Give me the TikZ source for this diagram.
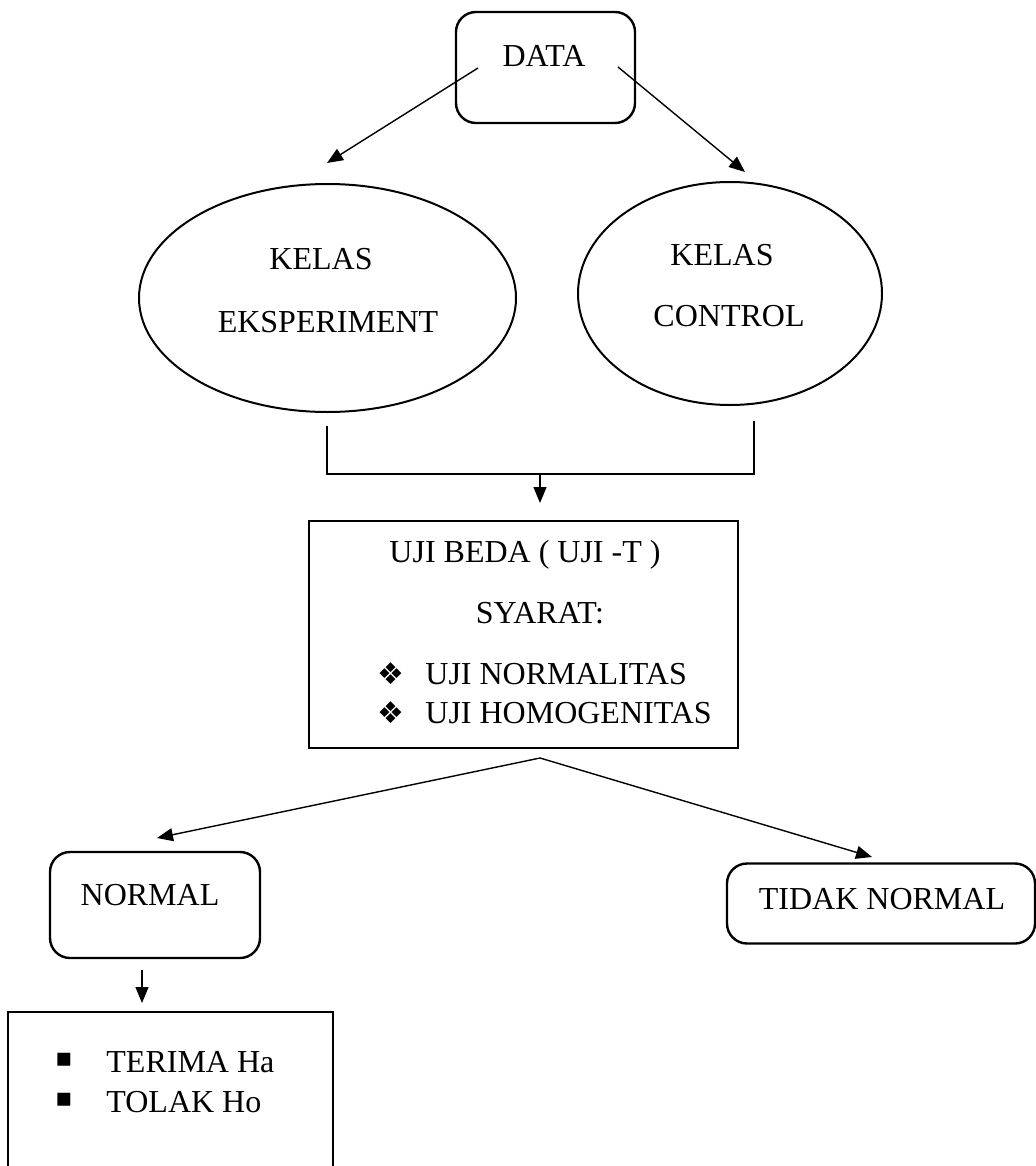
\documentclass[tikz,border=0pt]{standalone}
\usepackage{fontspec}
\setmainfont{Liberation Serif}
\newfontfamily\symfont{DejaVu Sans}
\usetikzlibrary{shapes.geometric,arrows.meta}
\begin{document}
\begin{tikzpicture}[x=0.5pt,y=-0.5pt,
  box/.style={draw,line width=1.2pt,inner sep=0pt},
  rbox/.style={box,rounded corners=10pt},
  oval/.style={draw,ellipse,line width=1pt,inner sep=0pt},
  lbl/.style={anchor=base,inner sep=0pt,font=\fontsize{16}{19}\selectfont},
  lblw/.style={lbl,anchor=base west},
  dia/.style={inner sep=0pt,font=\symfont\fontsize{15}{15}\selectfont},
  sq/.style={inner sep=0pt,font=\symfont\fontsize{13}{13}\selectfont},
  conn/.style={line width=0.7pt,-{Triangle[length=8pt,width=6.5pt]}},
  wire/.style={line width=0.7pt}]
\useasboundingbox (0,0) rectangle (1036,1166);

% top box
\node[rbox,minimum width=89.5pt,minimum height=55.5pt] (data) at (545.5,67.5) {};
\node[lbl] (datat) at (544,67) {DATA};

% ellipses
\node[oval,minimum width=188.5pt,minimum height=114pt] (eks) at (327.5,298) {};
\node[lbl] (eks1) at (321,270) {KELAS};
\node[lbl] (eks2) at (328,332) {EKSPERIMENT};
\node[oval,minimum width=152pt,minimum height=111.5pt] (ctl) at (730,293.5) {};
\node[lbl] (ctl1) at (722,265) {KELAS};
\node[lbl] (ctl2) at (729,326) {CONTROL};

% arrows from DATA
\coordinate (dl) at (478,68);
\coordinate (dr) at (618,67);
\coordinate (eksin) at (327,163);
\coordinate (ctlin) at (745,172);
\draw[conn] (dl) -- (eksin);
\draw[conn] (dr) -- (ctlin);

% bracket
\coordinate (b1) at (327,426);
\coordinate (b2) at (327,474);
\coordinate (b3) at (754,474);
\coordinate (b4) at (754,421);
\draw[wire] (b1) -- (b2) -- (b3) -- (b4);

% uji box
\node[box,minimum width=214.5pt,minimum height=113.5pt] (uji) at (523.5,634.5) {};
\coordinate (bm) at (540,474);
\coordinate (bt) at (540,503);
\draw[conn] (bm) -- (bt);
\node[lbl] (uji1) at (525,562) {UJI BEDA ( UJI -T )};
\node[lbl] (uji2) at (540,623) {SYARAT:};
\node[dia] (d1) at (391,674) {❖};
\node[lblw] (uji3) at (425,684) {UJI NORMALITAS};
\node[dia] (d2) at (391,713) {❖};
\node[lblw] (uji4) at (425,723) {UJI HOMOGENITAS};

% split arrows
\coordinate (sp) at (540,758);
\coordinate (norin) at (157,838);
\coordinate (tnin) at (872,857);
\draw[conn] (sp) -- (norin);
\draw[conn] (sp) -- (tnin);

% normal / tidak normal
\node[rbox,minimum width=105pt,minimum height=53pt] (nor) at (155,905) {};
\node[lbl] (nort) at (150,905) {NORMAL};
\node[rbox,minimum width=154pt,minimum height=40pt] (tn) at (881,903.5) {};
\node[lbl] (tnt) at (882,909) {TIDAK NORMAL};

% result box
\coordinate (na) at (142,970);
\coordinate (nb) at (142,1003);
\node[box,minimum width=162.5pt,minimum height=90pt] (res) at (170.5,1102) {};
\draw[conn] (na) -- (nb);
\node[sq] (s1) at (64,1060) {▪};
\node[lblw] (r1) at (106,1072) {TERIMA Ha};
\node[sq] (s2) at (64,1100) {▪};
\node[lblw] (r2) at (106,1112) {TOLAK Ho};
\end{tikzpicture}
\end{document}
